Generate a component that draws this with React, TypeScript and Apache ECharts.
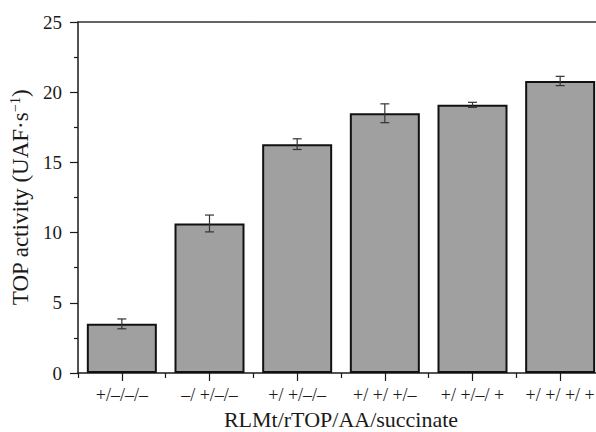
import React, { useEffect, useRef } from "react";
import * as echarts from "echarts";

const categories = ["+/–/–/–", "–/ +/–/–", "+/ +/–/–", "+/ +/ +/–", "+/ +/–/ +", "+/ +/ +/ +"];
const activity = [3.5, 10.65, 16.3, 18.5, 19.1, 20.8];
const errors = [0.35, 0.6, 0.38, 0.67, 0.18, 0.33];
const yMin = 0;
const yMax = 25;
const yInterval = 5;
const xTitle = "RLMt/rTOP/AA/succinate";
const yTitle = "TOP activity (UAF·s{sup|−1})";

const FONT = "Liberation Serif";
const INK = "#1a1a1a";

export default function App() {
  const ref = useRef<HTMLDivElement>(null);
  useEffect(() => {
    if (!ref.current) return;
    const chart = echarts.init(ref.current, undefined, { renderer: "svg" });
    const errData = categories.map((_, i) => [i, activity[i], errors[i]]);
    chart.setOption({
      animation: false,
      backgroundColor: "#ffffff",
      grid: { left: 78, top: 22, width: 526, bottom: 59, containLabel: false, outerBoundsMode: "none" },
      xAxis: [
        {
          type: "category",
          data: categories,
          axisLine: { show: true, lineStyle: { color: INK, width: 1.5 } },
          axisTick: { show: true, alignWithLabel: true, interval: 0, length: 8, lineStyle: { color: INK, width: 1.2 } },
          axisLabel: { color: INK, fontFamily: FONT, fontSize: 18, margin: 13, interval: 0, hideOverlap: false },
          name: xTitle,
          nameLocation: "middle",
          nameGap: 34,
          nameTextStyle: { color: INK, fontFamily: FONT, fontSize: 22 },
        },
        {
          type: "category",
          data: categories,
          position: "bottom",
          axisLine: { show: false },
          axisTick: { show: true, interval: 0, length: 5, lineStyle: { color: INK, width: 1.2 } },
          axisLabel: { show: false, interval: 0 },
        },
        {
          type: "category",
          data: categories,
          position: "top",
          axisLine: { show: true, lineStyle: { color: "#333333", width: 1.5 } },
          axisTick: { show: false },
          axisLabel: { show: false },
        },
      ],
      yAxis: {
        type: "value",
        min: yMin,
        max: yMax,
        interval: yInterval,
        splitLine: { show: false },
        axisLine: { show: true, lineStyle: { color: INK, width: 1.5 } },
        axisTick: { show: true, length: 8, lineStyle: { color: INK, width: 1.2 } },
        minorTick: { show: true, splitNumber: 2, length: 4, lineStyle: { color: INK, width: 1.2 } },
        axisLabel: { color: INK, fontFamily: FONT, fontSize: 19, margin: 16 },
        name: yTitle,
        nameLocation: "middle",
        nameGap: 40,
        nameTextStyle: {
          color: INK,
          fontFamily: FONT,
          fontSize: 23,
          rich: {
            sup: { fontFamily: FONT, fontSize: 14, color: INK, verticalAlign: "top", padding: [0, 0, 10, 0] },
          },
        },
      },
      series: [
        {
          type: "bar",
          data: activity,
          barWidth: 70,
          itemStyle: { color: "#a0a0a0", borderColor: "#111111", borderWidth: 2 },
        },
        {
          type: "custom",
          data: errData,
          z: 10,
          renderItem: (params: any, api: any) => {
            const idx = api.value(0);
            const v = api.value(1);
            const e = api.value(2);
            const top = api.coord([idx, v + e]);
            const bot = api.coord([idx, v - e]);
            const x = top[0];
            const cap = 4.5;
            const style = { stroke: "#333333", lineWidth: 1.2 };
            return {
              type: "group",
              children: [
                { type: "line", shape: { x1: x, y1: top[1], x2: x, y2: bot[1] }, style },
                { type: "line", shape: { x1: x - cap, y1: top[1], x2: x + cap, y2: top[1] }, style },
                { type: "line", shape: { x1: x - cap, y1: bot[1], x2: x + cap, y2: bot[1] }, style },
              ],
            };
          },
        },
      ],
    });
    return () => chart.dispose();
  }, []);
  return <div ref={ref} style={{ position: "fixed", left: 0, top: 0, width: 596, height: 432 }} />;
}
